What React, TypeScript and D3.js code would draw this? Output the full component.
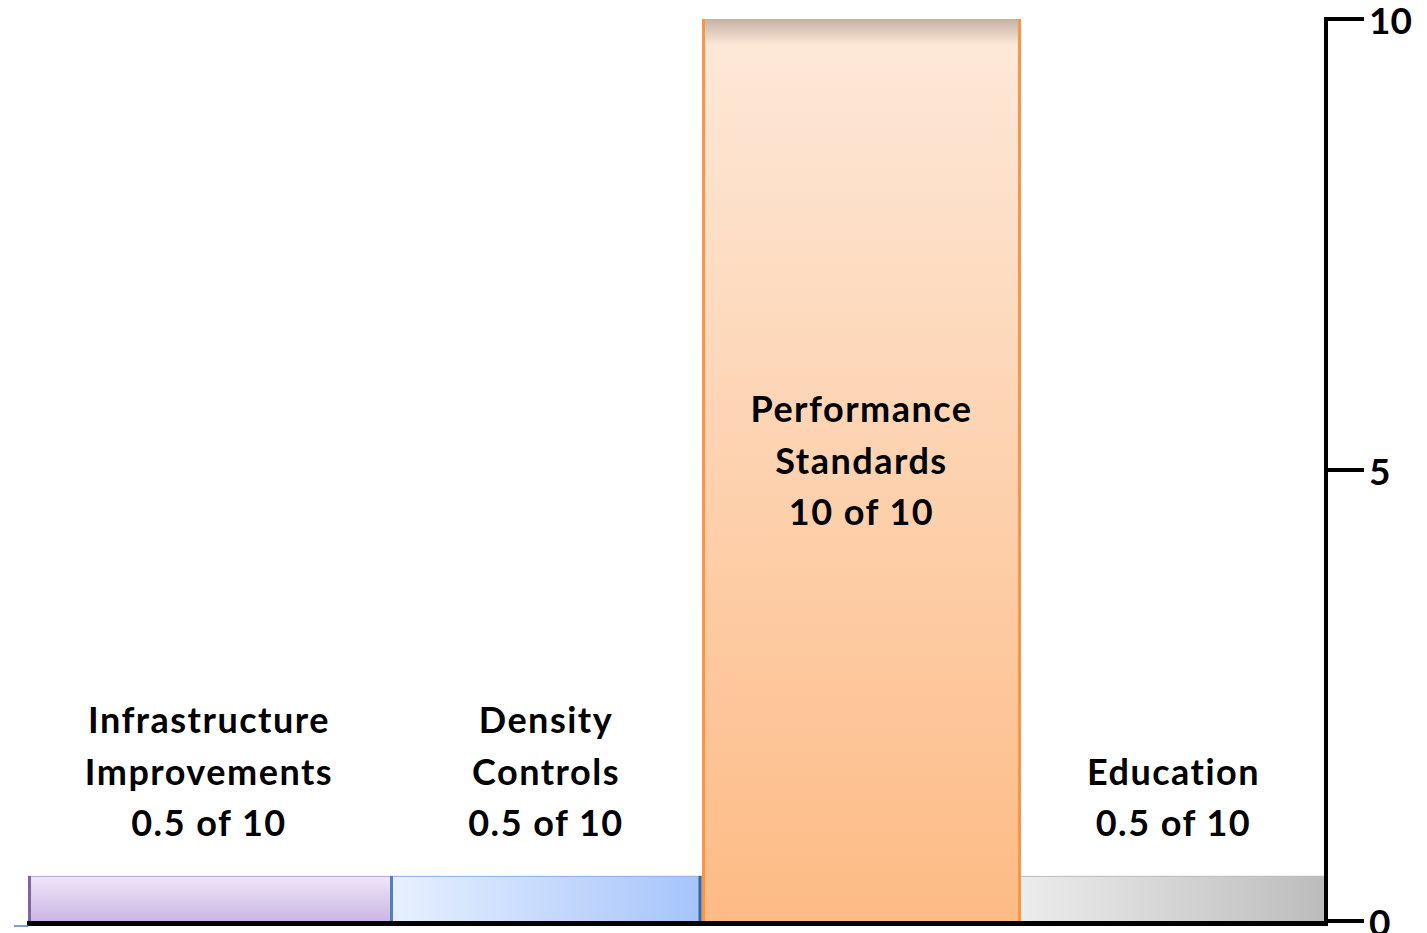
import React from "react";
import * as d3 from "d3";

const categories = ["Infrastructure Improvements", "Density Controls", "Performance Standards", "Education"];
const labelLines = [["Infrastructure", "Improvements"], ["Density", "Controls"], ["Performance", "Standards"], ["Education"]];
const values = [0.5, 0.5, 10, 0.5];
const maxScore = 10;
const tickValues = [0, 5, 10];

const W = 1427;
const H = 933;
const left = 28;
const right = 1326;
const top = 19;
const bottom = 921;
// relative column widths of the slide layout
const columnWeights = [362, 312, 319, 305];

const FONT = "Lato, 'Open Sans', sans-serif";

export default function App() {
  const cum = [0, ...d3.cumsum(columnWeights)];
  const xw = d3.scaleLinear().domain([0, cum[cum.length - 1]]).range([left, right]);
  const x0s = categories.map((_, i) => xw(cum[i]));
  const x1s = categories.map((_, i) => xw(cum[i + 1]));
  const y = d3.scaleLinear().domain([0, maxScore]).range([bottom, top]);

  const fills = ["url(#gInfra)", "url(#gDens)", "url(#gPerf)", "url(#gEdu)"];
  const lh = 51.5;

  return (
    <svg width={W} height={H} style={{ position: "absolute", left: 0, top: 0, background: "#fff" }}>
      <defs>
        <linearGradient id="gInfra" x1="0" y1="0" x2="0" y2="1">
          <stop offset="0" stopColor="#eee7f7" />
          <stop offset="1" stopColor="#cbb6e5" />
        </linearGradient>
        <linearGradient id="gDens" x1="0" y1="0" x2="1" y2="0">
          <stop offset="0" stopColor="#e7f0ff" />
          <stop offset="1" stopColor="#a6c4fa" />
        </linearGradient>
        <linearGradient id="gPerf" x1="0" y1="0" x2="0" y2="1">
          <stop offset="0" stopColor="#fde9da" />
          <stop offset="1" stopColor="#fdbb85" />
        </linearGradient>
        <linearGradient id="gEdu" x1="0" y1="0" x2="1" y2="0">
          <stop offset="0" stopColor="#ececec" />
          <stop offset="1" stopColor="#bcbcbc" />
        </linearGradient>
        <linearGradient id="gShadow" x1="0" y1="0" x2="0" y2="1">
          <stop offset="0" stopColor="#8a7a70" stopOpacity="0.5" />
          <stop offset="1" stopColor="#8a7a70" stopOpacity="0" />
        </linearGradient>
      </defs>

      {categories.map((c, i) => {
        const x0 = x0s[i];
        const bw = x1s[i] - x0s[i];
        const y0 = y(values[i]);
        const h = bottom - y0;
        return (
          <g key={c}>
            <rect x={x0} y={y0} width={bw} height={h} fill={fills[i]} />
            {i === 0 && (
              <g>
                <line x1={x0} x2={x0 + bw} y1={y0 + 0.5} y2={y0 + 0.5} stroke="#b8a4d2" strokeWidth={1} />
                <line x1={x0 + 1.5} x2={x0 + 1.5} y1={y0} y2={bottom} stroke="#8064a2" strokeWidth={3} />
              </g>
            )}
            {i === 1 && (
              <g>
                <line x1={x0} x2={x0 + bw} y1={y0 + 0.5} y2={y0 + 0.5} stroke="#8fb2e8" strokeWidth={1} />
                <line x1={x0 + 1.5} x2={x0 + 1.5} y1={y0} y2={bottom} stroke="#4f81bd" strokeWidth={3} />
                <line x1={x0 + bw - 2} x2={x0 + bw - 2} y1={y0} y2={bottom} stroke="#3c6494" strokeWidth={3} />
              </g>
            )}
            {i === 2 && (
              <g>
                <rect x={x0} y={y0} width={bw} height={26} fill="url(#gShadow)" />
                <line x1={x0 + 1.5} x2={x0 + 1.5} y1={y0} y2={bottom + 4} stroke="#f79646" strokeWidth={3} />
                <line x1={x0 + bw - 1.5} x2={x0 + bw - 1.5} y1={y0} y2={bottom + 4} stroke="#f79646" strokeWidth={3} />
              </g>
            )}
            {i === 3 && (
              <line x1={x0} x2={x0 + bw} y1={y0 + 0.5} y2={y0 + 0.5} stroke="#bdbdbd" strokeWidth={1} />
            )}
          </g>
        );
      })}

      {/* labels */}
      {categories.map((c, i) => {
        const lines = [...labelLines[i], `${values[i]} of ${maxScore}`];
        const cx = (x0s[i] + x1s[i]) / 2;
        const lastBaseline = values[i] >= maxScore / 2 ? y(maxScore / 2) + 55 : bottom - 85;
        const firstBaseline = lastBaseline - (lines.length - 1) * lh;
        return (
          <text key={c} textAnchor="middle" fontFamily={FONT} fontWeight={700} fontSize={36} letterSpacing={1.5} fill="#000">
            {lines.map((l, k) => (
              <tspan key={k} x={cx} y={firstBaseline + k * lh}>{l}</tspan>
            ))}
          </text>
        );
      })}

      {/* baseline */}
      <line x1={left - 1} x2={right} y1={bottom + 2.5} y2={bottom + 2.5} stroke="#000" strokeWidth={5} />
      <line x1={14} x2={left} y1={bottom + 5} y2={bottom + 5} stroke="#4f81bd" strokeWidth={1.5} />

      {/* right axis */}
      <line x1={right} x2={right} y1={y(maxScore) - 2} y2={bottom + 5} stroke="#000" strokeWidth={4} />
      {tickValues.map((t) => (
        <g key={t}>
          <line x1={right} x2={right + 38} y1={y(t)} y2={y(t)} stroke="#000" strokeWidth={4} />
          <text x={right + 43} y={y(t) + 15} fontFamily={FONT} fontWeight={700} fontSize={37} fill="#000">{t}</text>
        </g>
      ))}
    </svg>
  );
}
